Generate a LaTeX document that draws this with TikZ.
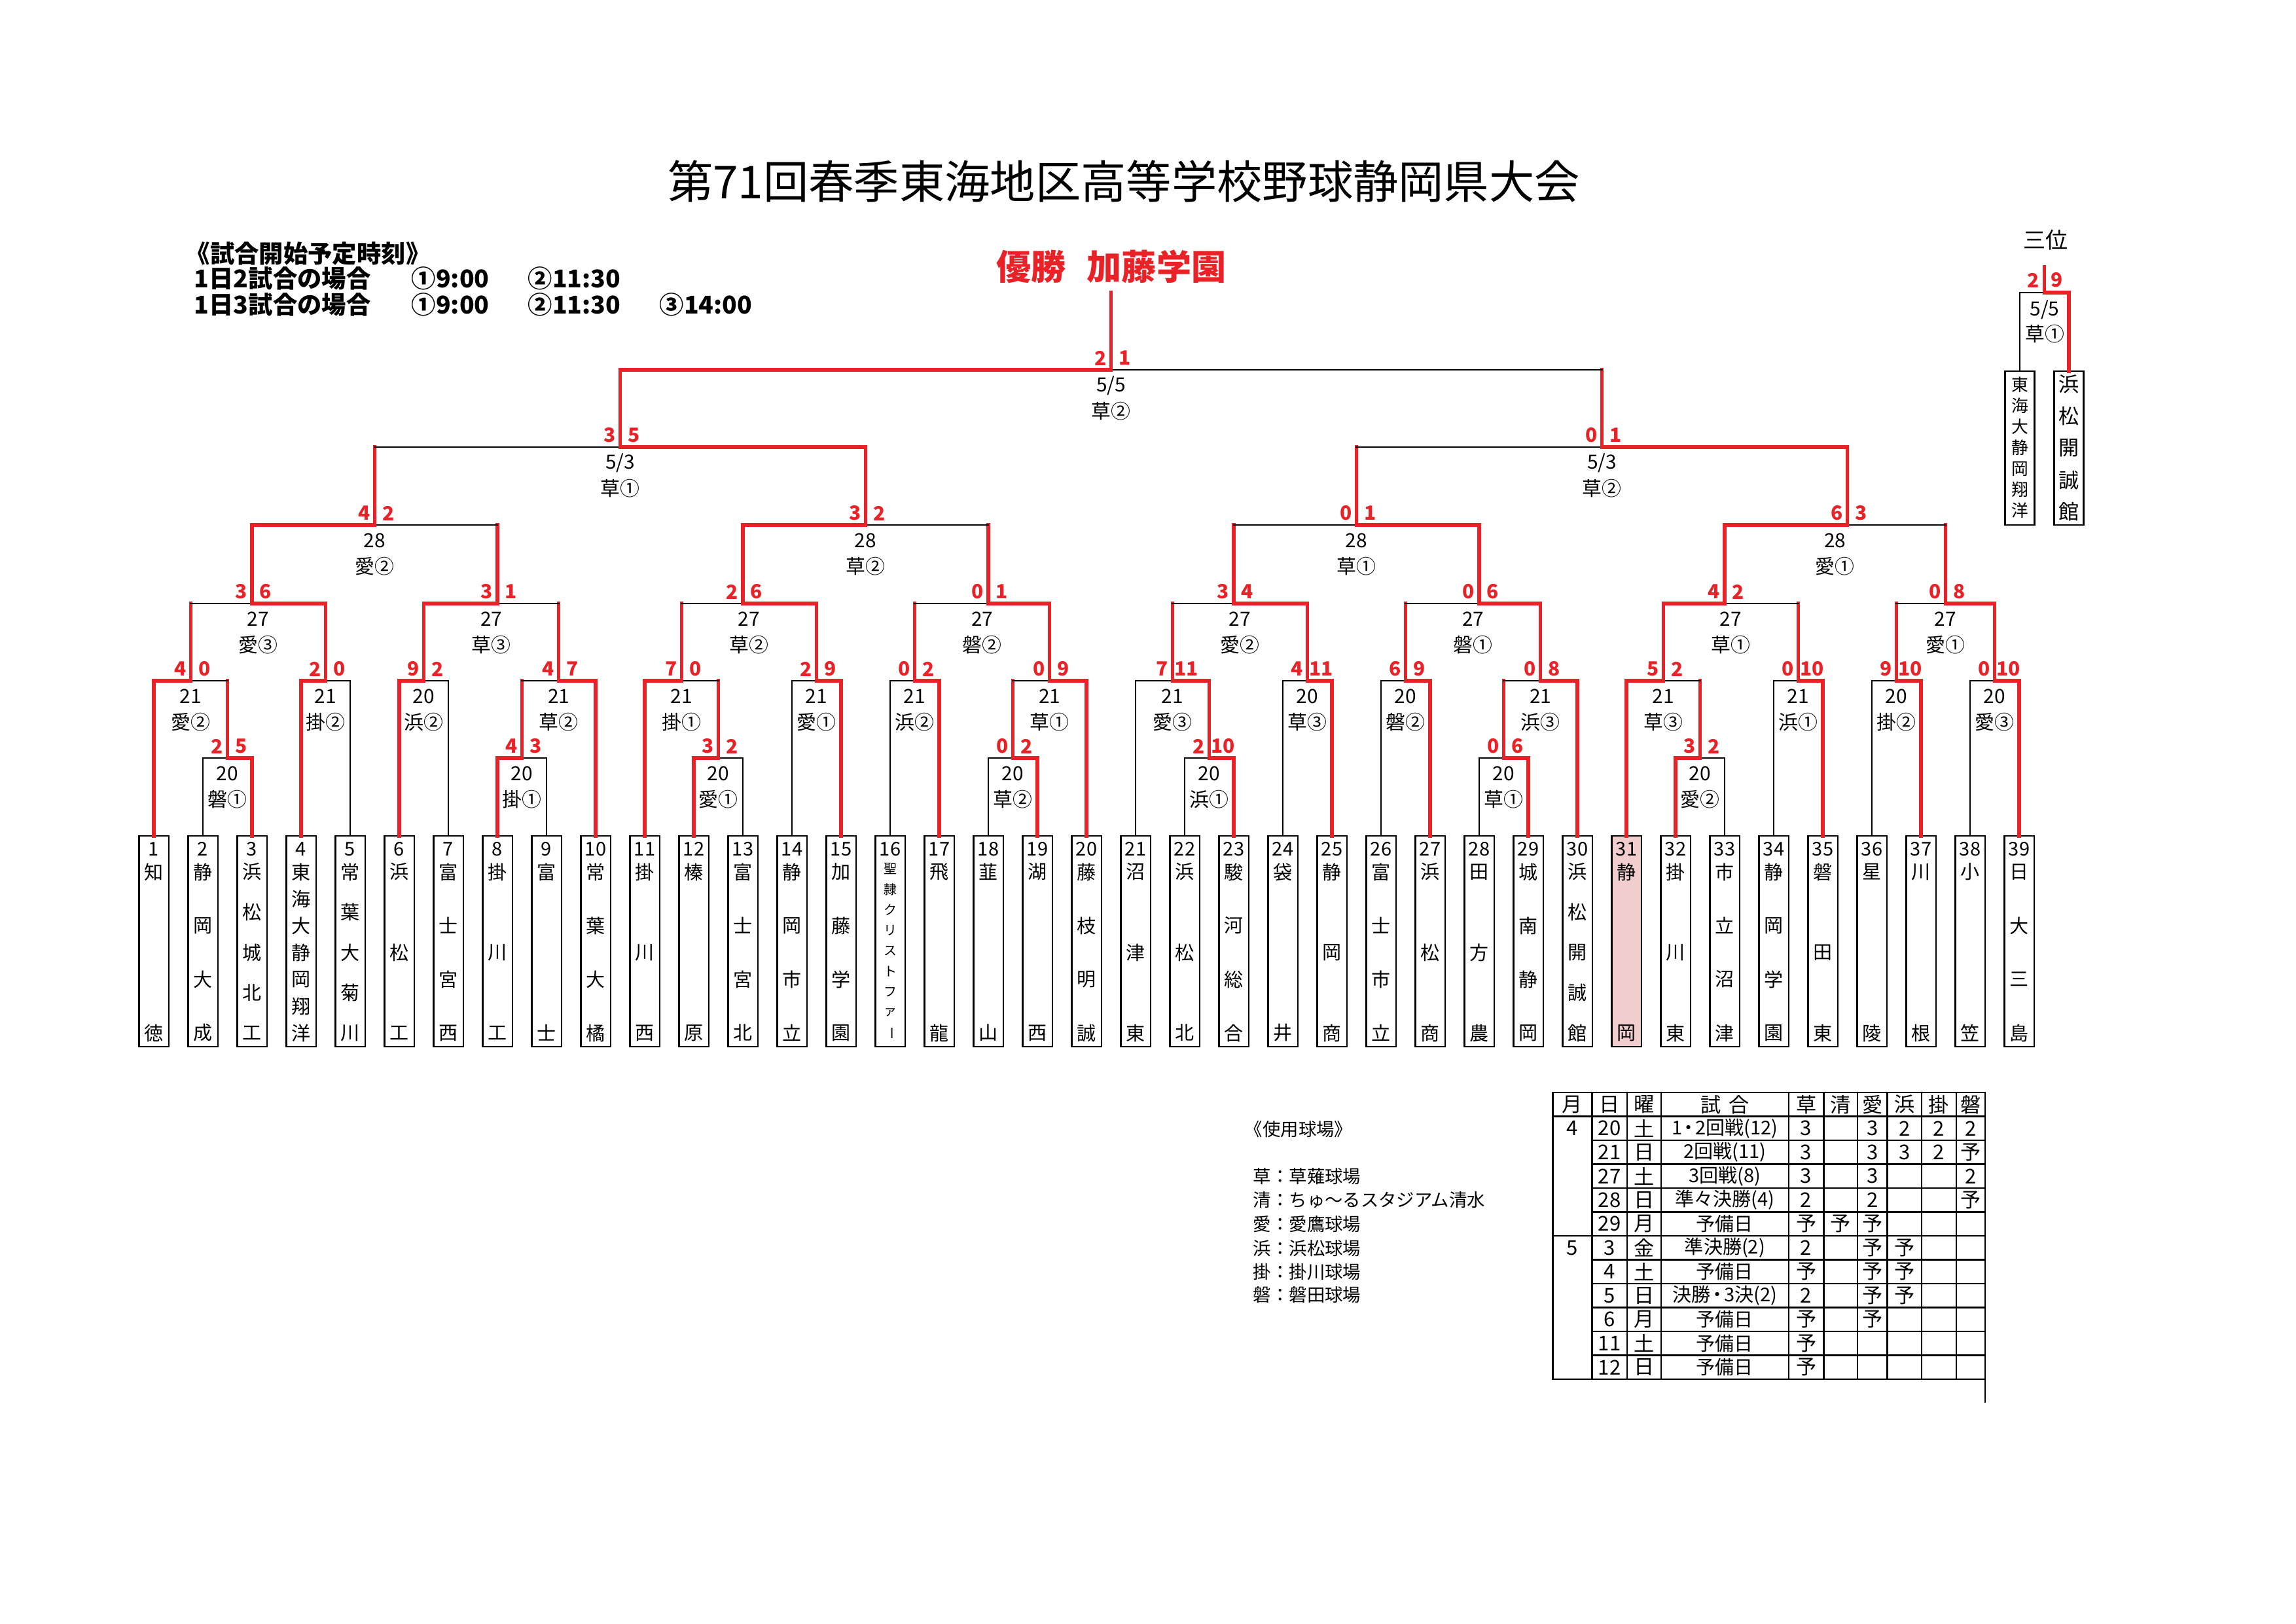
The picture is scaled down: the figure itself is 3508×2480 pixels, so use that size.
\documentclass[tikz,border=0pt]{standalone}
\usepackage{fontspec}
\setmainfont{Noto Sans CJK JP}
\usepackage{tikz}
\usetikzlibrary{calc,positioning}
\definecolor{winred}{RGB}{232,34,39}
\definecolor{runnerup}{RGB}{242,205,205}

\begin{document}
\begin{tikzpicture}[x=0.008466cm, y=-0.008466cm,
   win/.style={draw=winred, line width=1.25pt, line cap=rect},
   lose/.style={draw=black, line width=0.6pt},
   teambox/.style={draw, line width=0.6pt, rectangle, inner sep=0pt, outer sep=0pt, minimum width=0.3852cm, minimum height=2.7261cm},
   thirdbox/.style={draw, line width=0.6pt, rectangle, inner sep=0pt, outer sep=0pt, minimum width=0.381cm, minimum height=1.9895cm},
   tnum/.style={inner sep=0pt, font=\fontsize{7}{8}\selectfont},
   tname/.style={inner sep=0pt, font=\fontsize{7}{8}\selectfont},
   tsmall/.style={inner sep=0pt, font=\fontsize{4.8}{5}\selectfont},
   mlabel/.style={inner sep=0pt, font=\fontsize{7.2}{8}\selectfont},
   score/.style={inner sep=0pt, text=winred, font=\bfseries\fontsize{7.2}{8}\selectfont},
   note/.style={inner sep=0pt, anchor=west, font=\bfseries\fontsize{9}{10}\selectfont},
   legend/.style={inner sep=0pt, anchor=west, font=\fontsize{6.6}{7}\selectfont},
   tcell/.style={inner sep=0pt, font=\fontsize{7.5}{8}\selectfont},
   tgame/.style={inner sep=0pt, font=\fontsize{7}{8}\selectfont},
   tbl/.style={draw=black, line width=0.6pt}]
   \useasboundingbox (0,0) rectangle (3508,2480);

   % title and notes
   \node[inner sep=0pt, font=\fontsize{16.7}{18}\selectfont] (title) at (1717,277) {第71回春季東海地区高等学校野球静岡県大会};
   \node[inner sep=0pt, text=winred, font=\bfseries\fontsize{12.8}{14}\selectfont] (winner) at (1698,407) {優勝\hspace{0.6em}加藤学園};
   \node[note] (h0) at (283,387) {《試合開始予定時刻》};
   \node[note] (h1) at (296,425) {1日2試合の場合};
   \node[note] (h1a) at (628,425) {①9:00};
   \node[note] (h1b) at (806,425) {②11:30};
   \node[note] (h2) at (296,465) {1日3試合の場合};
   \node[note] (h2a) at (628,465) {①9:00};
   \node[note] (h2b) at (806,465) {②11:30};
   \node[note] (h2c) at (1007,465) {③14:00};

   % teams
   \fill[runnerup] (2462.25,1277) rectangle (2507.75,1599);
   \foreach \n/\k/\nm in {1/2/{知,徳}, 2/4/{静,岡,大,成}, 3/5/{浜,松,城,北,工}, 4/7/{東,海,大,静,岡,翔,洋},
      5/5/{常,葉,大,菊,川}, 6/3/{浜,松,工}, 7/4/{富,士,宮,西}, 8/3/{掛,川,工}, 9/2/{富,士},
      10/4/{常,葉,大,橘}, 11/3/{掛,川,西}, 12/2/{榛,原}, 13/4/{富,士,宮,北}, 14/4/{静,岡,市,立},
      15/4/{加,藤,学,園}, 17/2/{飛,龍}, 18/2/{韮,山}, 19/2/{湖,西}, 20/4/{藤,枝,明,誠},
      21/3/{沼,津,東}, 22/3/{浜,松,北}, 23/4/{駿,河,総,合}, 24/2/{袋,井}, 25/3/{静,岡,商},
      26/4/{富,士,市,立}, 27/3/{浜,松,商}, 28/3/{田,方,農}, 29/4/{城,南,静,岡}, 30/5/{浜,松,開,誠,館},
      31/2/{静,岡}, 32/3/{掛,川,東}, 33/4/{市,立,沼,津}, 34/4/{静,岡,学,園}, 35/3/{磐,田,東},
      36/2/{星,陵}, 37/2/{川,根}, 38/2/{小,笠}, 39/4/{日,大,三,島}}
   {
      \node[teambox] (t\n) at ({235+75*(\n-1)},1438) {};
      \node[tnum] (n\n) at ({235+75*(\n-1)},1297) {\n};
      \foreach \ch [count=\q] in \nm
         \node[tname] (c\n-\q) at ({235+75*(\n-1)},{1332+246*(\q-1)/(\k-1)}) {\ch};
   }
   \node[teambox] (t16) at (1360,1438) {};
   \node[tnum] (n16) at (1360,1297) {16};
   \foreach \ch [count=\q] in {聖,隷,ク,リ,ス,ト,フ,ァ,\rotatebox{-90}{ー}}
      \node[tsmall] (c16-\q) at (1360,{1327+31.4*(\q-1)}) {\ch};

   % match points
   \coordinate (A1) at (347.5,1158);
   \coordinate (A2) at (291.25,1040);
   \coordinate (A3) at (497.5,1040);
   \coordinate (A4) at (385,922);
   \coordinate (A5) at (647.5,1040);
   \coordinate (A6) at (797.5,1158);
   \coordinate (A7) at (853.75,1040);
   \coordinate (A8) at (760,922);
   \coordinate (QA) at (572.5,802);
   \coordinate (B1) at (1097.5,1158);
   \coordinate (B2) at (1041.25,1040);
   \coordinate (B3) at (1247.5,1040);
   \coordinate (B4) at (1135,922);
   \coordinate (B5) at (1397.5,1040);
   \coordinate (B6) at (1547.5,1158);
   \coordinate (B7) at (1603.75,1040);
   \coordinate (B8) at (1510,922);
   \coordinate (QB) at (1322.5,802);
   \coordinate (SL) at (947.5,683);
   \coordinate (C1) at (1847.5,1158);
   \coordinate (C2) at (1791.25,1040);
   \coordinate (C3) at (1997.5,1040);
   \coordinate (C4) at (1885,922);
   \coordinate (C5) at (2147.5,1040);
   \coordinate (C6) at (2297.5,1158);
   \coordinate (C7) at (2353.75,1040);
   \coordinate (C8) at (2260,922);
   \coordinate (QC) at (2072.5,802);
   \coordinate (D1) at (2597.5,1158);
   \coordinate (D2) at (2541.25,1040);
   \coordinate (D3) at (2747.5,1040);
   \coordinate (D4) at (2635,922);
   \coordinate (D5) at (2897.5,1040);
   \coordinate (D6) at (3047.5,1040);
   \coordinate (D7) at (2972.5,922);
   \coordinate (QD) at (2822.5,802);
   \coordinate (SR) at (2447.5,683);
   \coordinate (F) at (1697.5,565);
   \coordinate (champ) at (1697.5,447);

   % block A
   \draw[lose] (t2) |- (A1);
   \draw[win] (t3) |- (A1);
   \draw[win] (t1) |- (A2);
   \draw[win] (A1) -- (A1 |- A2) edge[lose] (A2);
   \draw[win] (t4) |- (A3);
   \draw[lose] (t5) |- (A3);
   \draw[win] (A2) -- (A2 |- A4) edge[lose] (A4);
   \draw[win] (A3) |- (A4);
   \draw[win] (t6) |- (A5);
   \draw[lose] (t7) |- (A5);
   \draw[win] (t8) |- (A6);
   \draw[lose] (t9) |- (A6);
   \draw[win] (A6) -- (A6 |- A7) edge[lose] (A7);
   \draw[win] (t10) |- (A7);
   \draw[win] (A5) |- (A8);
   \draw[win] (A7) -- (A7 |- A8) edge[lose] (A8);
   \draw[win] (A4) |- (QA);
   \draw[win] (A8) -- (A8 |- QA) edge[lose] (QA);
   % block B
   \draw[win] (t12) |- (B1);
   \draw[lose] (t13) |- (B1);
   \draw[win] (t11) |- (B2);
   \draw[win] (B1) -- (B1 |- B2) edge[lose] (B2);
   \draw[lose] (t14) |- (B3);
   \draw[win] (t15) |- (B3);
   \draw[win] (B2) -- (B2 |- B4) edge[lose] (B4);
   \draw[win] (B3) |- (B4);
   \draw[lose] (t16) |- (B5);
   \draw[win] (t17) |- (B5);
   \draw[lose] (t18) |- (B6);
   \draw[win] (t19) |- (B6);
   \draw[win] (B6) -- (B6 |- B7) edge[lose] (B7);
   \draw[win] (t20) |- (B7);
   \draw[win] (B5) -- (B5 |- B8) edge[lose] (B8);
   \draw[win] (B7) |- (B8);
   \draw[win] (B4) |- (QB);
   \draw[win] (B8) -- (B8 |- QB) edge[lose] (QB);
   \draw[win] (QA) -- (QA |- SL) edge[lose] (SL);
   \draw[win] (QB) |- (SL);
   % block C
   \draw[lose] (t22) |- (C1);
   \draw[win] (t23) |- (C1);
   \draw[lose] (t21) |- (C2);
   \draw[win] (C1) |- (C2);
   \draw[lose] (t24) |- (C3);
   \draw[win] (t25) |- (C3);
   \draw[win] (C2) -- (C2 |- C4) edge[lose] (C4);
   \draw[win] (C3) |- (C4);
   \draw[lose] (t26) |- (C5);
   \draw[win] (t27) |- (C5);
   \draw[lose] (t28) |- (C6);
   \draw[win] (t29) |- (C6);
   \draw[win] (C6) -- (C6 |- C7) edge[lose] (C7);
   \draw[win] (t30) |- (C7);
   \draw[win] (C5) -- (C5 |- C8) edge[lose] (C8);
   \draw[win] (C7) |- (C8);
   \draw[win] (C4) -- (C4 |- QC) edge[lose] (QC);
   \draw[win] (C8) |- (QC);
   % block D
   \draw[win] (t32) |- (D1);
   \draw[lose] (t33) |- (D1);
   \draw[win] (t31) |- (D2);
   \draw[win] (D1) -- (D1 |- D2) edge[lose] (D2);
   \draw[lose] (t34) |- (D3);
   \draw[win] (t35) |- (D3);
   \draw[win] (D2) |- (D4);
   \draw[win] (D3) -- (D3 |- D4) edge[lose] (D4);
   \draw[lose] (t36) |- (D5);
   \draw[win] (t37) |- (D5);
   \draw[lose] (t38) |- (D6);
   \draw[win] (t39) |- (D6);
   \draw[win] (D5) -- (D5 |- D7) edge[lose] (D7);
   \draw[win] (D6) |- (D7);
   \draw[win] (D4) |- (QD);
   \draw[win] (D7) -- (D7 |- QD) edge[lose] (QD);
   \draw[win] (QC) -- (QC |- SR) edge[lose] (SR);
   \draw[win] (QD) |- (SR);
   % final
   \draw[win] (SL) |- (F);
   \draw[win] (SR) -- (SR |- F) edge[lose] (F);
   \draw[win] (F) -- (champ);

   % dates, grounds and scores
   \foreach \mt/\lc/\rc/\dt/\vn/\sa/\sb in {A1/t2/t3/20/磐①/2/5, A2/t1/A1/21/愛②/4/0, A3/t4/t5/21/掛②/2/0,
      A4/A2/A3/27/愛③/3/6, A5/t6/t7/20/浜②/9/2, A6/t8/t9/20/掛①/4/3, A7/A6/t10/21/草②/4/7,
      A8/A5/A7/27/草③/3/1, QA/A4/A8/28/愛②/4/2, B1/t12/t13/20/愛①/3/2, B2/t11/B1/21/掛①/7/0,
      B3/t14/t15/21/愛①/2/9, B4/B2/B3/27/草②/2/6, B5/t16/t17/21/浜②/0/2, B6/t18/t19/20/草②/0/2,
      B7/B6/t20/21/草①/0/9, B8/B5/B7/27/磐②/0/1, QB/B4/B8/28/草②/3/2, C1/t22/t23/20/浜①/2/10,
      C2/t21/C1/21/愛③/7/11, C3/t24/t25/20/草③/4/11, C4/C2/C3/27/愛②/3/4, C5/t26/t27/20/磐②/6/9,
      C6/t28/t29/20/草①/0/6, C7/C6/t30/21/浜③/0/8, C8/C5/C7/27/磐①/0/6, QC/C4/C8/28/草①/0/1,
      D1/t32/t33/20/愛②/3/2, D2/t31/D1/21/草③/5/2, D3/t34/t35/21/浜①/0/10, D4/D2/D3/27/草①/4/2,
      D5/t36/t37/20/掛②/9/10, D6/t38/t39/20/愛③/0/10, D7/D5/D6/27/愛①/0/8, QD/D4/D7/28/愛①/6/3}
   {
      \node[mlabel] (\mt-d) at ($(\lc |- \mt)!0.5!(\rc |- \mt) + (0,24)$) {\dt};
      \node[mlabel] (\mt-v) at ($(\lc |- \mt)!0.5!(\rc |- \mt) + (0,63)$) {\vn};
      \node[score] (\mt-a) at ([shift={(-16,-18)}]\mt) {\sa};
      \node[score] (\mt-b) at ([shift={(21,-18)}]\mt) {\sb};
   }
   \node[mlabel] (SL-d) at (947.5,707) {5/3};
   \node[mlabel] (SL-v) at (947.5,746) {草①};
   \node[score] (SL-a) at ([shift={(-16,-18)}]SL) {3};
   \node[score] (SL-b) at ([shift={(21,-18)}]SL) {5};
   \node[mlabel] (SR-d) at (2447.5,707) {5/3};
   \node[mlabel] (SR-v) at (2447.5,746) {草②};
   \node[score] (SR-a) at ([shift={(-16,-18)}]SR) {0};
   \node[score] (SR-b) at ([shift={(21,-18)}]SR) {1};
   \node[mlabel] (F-d) at (1697.5,589) {5/5};
   \node[mlabel] (F-v) at (1697.5,628) {草②};
   \node[score] (F-a) at ([shift={(-16,-18)}]F) {2};
   \node[score] (F-b) at ([shift={(21,-18)}]F) {1};

   % third place
   \node[inner sep=0pt, font=\fontsize{8.2}{9}\selectfont] (third) at (3125,367) {三位};
   \coordinate (T) at (3123.5,447);
   \coordinate (Ttop) at (3123.5,408);
   \node[thirdbox] (p1) at (3086,684.5) {};
   \node[thirdbox] (p2) at (3161,684.5) {};
   \draw[lose] (p1) |- (T);
   \draw[win] (p2) |- (T);
   \draw[win] (T) -- (Ttop);
   \node[score] (T-a) at (3107,428) {2};
   \node[score] (T-b) at (3143,428) {9};
   \node[mlabel] (T-d) at (3124,473) {5/5};
   \node[mlabel] (T-v) at (3124,510) {草①};
   \foreach \ch [count=\q] in {東,海,大,静,岡,翔,洋}
      \node[inner sep=0pt, font=\fontsize{6.2}{7}\selectfont] (p1-\q) at (3086,{588+32*(\q-1)}) {\ch};
   \foreach \ch [count=\q] in {浜,松,開,誠,館}
      \node[inner sep=0pt, font=\fontsize{7.5}{8}\selectfont] (p2-\q) at (3161,{587+48.75*(\q-1)}) {\ch};

   % grounds
   \node[legend] (lg0) at (1901,1725) {《使用球場》};
   \foreach \g/\gy in {草：草薙球場/1797, 清：ちゅ～るスタジアム清水/1833, 愛：愛鷹球場/1870,
      浜：浜松球場/1907, 掛：掛川球場/1943, 磐：磐田球場/1978}
      \node[legend] (lg\gy) at (1914,\gy) {\g};

   % schedule table
   \draw[tbl] (2372.5,1669) rectangle (3033,2107);
   \foreach \xx in {2432.3,2485.9,2538,2732.8,2786.4,2838,2883.5,2936.1,2988.8}
      \draw[tbl] (\xx,1669) -- (\xx,2107);
   \draw[tbl] (2372.5,1705.5) -- (3033,1705.5);
   \draw[tbl] (2372.5,1888) -- (3033,1888);
   \foreach \k in {1,2,3,4,6,7,8,9,10}
      \draw[tbl] (2432.3,{1705.5+36.5*\k}) -- (3033,{1705.5+36.5*\k});
   \draw[tbl] (3033,2107) -- (3033,2143);
   \foreach \hx/\hlab [count=\hi] in {2402.4/月, 2459.1/日, 2512/曜, 2635.4/試\hspace{0.4em}合, 2759.6/草, 2812.2/清,
      2860.8/愛, 2909.8/浜, 2962.5/掛, 3011/磐}
      \node[tcell] (hd\hi) at (\hx,1687.25) {\hlab};
   \node[tcell] (mo4) at (2402.4,1723.75) {4};
   \node[tcell] (mo5) at (2402.4,1906.25) {5};
   \foreach \k/\dy/\wdy/\gm/\sk/\sm/\sai/\sh/\sg/\sw in {
      1/20/土/1{\kern-0.15em}・{\kern-0.15em}2回戦(12)/3/{}/3/2/2/2,
      2/21/日/2回戦(11)/3/{}/3/3/2/予,
      3/27/土/3回戦(8)/3/{}/3/{}/{}/2,
      4/28/日/準々決勝(4)/2/{}/2/{}/{}/予,
      5/29/月/予備日/予/予/予/{}/{}/{},
      6/3/金/準決勝(2)/2/{}/予/予/{}/{},
      7/4/土/予備日/予/{}/予/予/{}/{},
      8/5/日/決勝{\kern-0.15em}・{\kern-0.15em}3決(2)/2/{}/予/予/{}/{},
      9/6/月/予備日/予/{}/予/{}/{}/{},
      10/11/土/予備日/予/{}/{}/{}/{}/{},
      11/12/日/予備日/予/{}/{}/{}/{}/{}}
   {
      \node[tcell] (r\k-1) at (2459.1,{1687.25+36.5*\k}) {\dy};
      \node[tcell] (r\k-2) at (2512,{1687.25+36.5*\k}) {\wdy};
      \node[tgame] (r\k-3) at (2635.4,{1687.25+36.5*\k}) {\gm};
      \node[tcell] (r\k-4) at (2759.6,{1687.25+36.5*\k}) {\sk};
      \node[tcell] (r\k-5) at (2812.2,{1687.25+36.5*\k}) {\sm};
      \node[tcell] (r\k-6) at (2860.8,{1687.25+36.5*\k}) {\sai};
      \node[tcell] (r\k-7) at (2909.8,{1687.25+36.5*\k}) {\sh};
      \node[tcell] (r\k-8) at (2962.5,{1687.25+36.5*\k}) {\sg};
      \node[tcell] (r\k-9) at (3011,{1687.25+36.5*\k}) {\sw};
   }
\end{tikzpicture}
\end{document}
